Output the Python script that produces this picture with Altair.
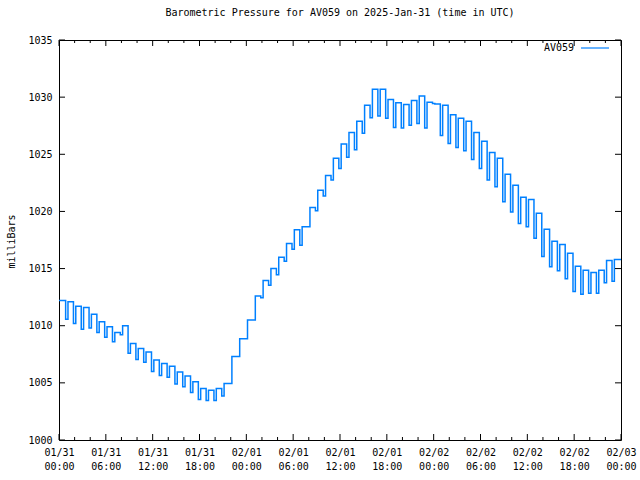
import altair as alt
import pandas as pd

# ---- data ----
hours = list(range(72))  # hour index from 2025-01-31 00:00 UTC
tops = [1012.2, 1012.1, 1011.7, 1011.6, 1011.0, 1010.35, 1009.9, 1009.4, 1010.0, 1008.45,
        1008.0, 1007.7, 1007.0, 1006.7, 1006.45, 1005.95, 1005.6, 1005.1, 1004.5, 1004.35,
        1004.5, 1004.95, 1007.3, 1008.85, 1010.5, 1012.6, 1013.95, 1015.0, 1016.0, 1017.2,
        1018.4, 1018.65, 1020.35, 1021.85, 1023.15, 1024.65, 1025.9, 1026.9, 1027.9, 1029.3,
        1030.7, 1030.7, 1029.8, 1029.5, 1029.35, 1029.7, 1030.1, 1029.55, 1029.4, 1029.3,
        1028.45, 1028.15, 1027.9, 1026.9, 1026.15, 1025.15, 1024.65, 1023.25, 1022.3, 1021.25,
        1021.05, 1019.85, 1018.45, 1017.4, 1017.1, 1016.35, 1015.2, 1014.85, 1014.65, 1014.85,
        1015.7, 1015.8]
dips = [1010.56, 1010.2, 1009.7, 1009.8, 1009.4, 1009.0, 1008.6, 1009.2, 1007.6, 1007.05,
        1006.8, 1006.0, 1005.65, 1005.5, 1004.9, 1004.65, 1004.15, 1003.55, 1003.45, 1003.45,
        1003.85, 1004.95, 1007.3, 1008.85, 1010.5, 1012.45, 1013.55, 1014.45, 1015.65, 1016.7,
        1017.05, 1018.65, 1020.05, 1021.35, 1022.75, 1023.75, 1024.75, 1025.4, 1026.85, 1028.2,
        1028.35, 1028.15, 1027.35, 1027.3, 1027.55, 1027.7, 1027.3, 1029.45, 1026.65, 1025.95,
        1025.6, 1025.3, 1024.55, 1023.75, 1022.75, 1022.15, 1020.85, 1019.95, 1018.95, 1018.65,
        1017.65, 1016.05, 1015.15, 1014.8, 1014.1, 1013.0, 1012.75, 1012.85, 1012.85, 1013.75,
        1013.9, 1015.8]
series_name = "AV059"
y_tick_values = [1000, 1005, 1010, 1015, 1020, 1025, 1030, 1035]
x_major = [0, 6, 12, 18, 24, 30, 36, 42, 48, 54, 60, 66, 72]
x_minor = [2, 4, 8, 10, 14, 16, 20, 22, 26, 28, 32, 34, 38, 40, 44, 46, 50, 52, 56, 58, 62, 64, 68, 70]
title_text = "Barometric Pressure for AV059 on 2025-Jan-31 (time in UTC)"
LINE_COLOR = "#0080ff"

rows = []
for h, t, d in zip(hours, tops, dips):
    rows.append({"hour": h if h == 0 else h + 0.15, "p": t, "s": series_name})
    rows.append({"hour": h + 0.85, "p": d, "s": series_name})
rows.append({"hour": 72, "p": tops[-1], "s": series_name})
df = pd.DataFrame(rows)

FONT = "DejaVu Sans Mono"
W, H = 562, 400
xs = alt.Scale(domain=[0, 72], nice=False, zero=False)
ys = alt.Scale(domain=[1000, 1035], nice=False, zero=False)

label_expr = ("[datum.value < 24 ? '01/31' : datum.value < 48 ? '02/01' : datum.value < 72 ? '02/02' : '02/03', "
              "(datum.value % 24 < 10 ? '0' : '') + (datum.value % 24) + ':00']")

x_axis = alt.Axis(values=x_major, labelExpr=label_expr, ticks=False, domain=False, grid=False,
                  title=None, labelPadding=7, labelLineHeight=14, labelFont=FONT,
                  labelFontSize=10, labelColor="black", labelFlush=False, labelOverlap=False)
y_axis = alt.Axis(values=y_tick_values, ticks=False, domain=False, grid=False, format="d",
                  title="milliBars", labelPadding=7, labelFont=FONT, labelFontSize=10,
                  labelColor="black", titleFont=FONT, titleFontSize=10, titleFontWeight="normal",
                  titleColor="black", titleX=-48, titleY=201, titleAngle=270,
                  titleBaseline="middle", titleAlign="center", labelFlush=False,
                  labelOverlap=False)

line = alt.Chart(df).mark_line(interpolate="step-after", strokeWidth=1.5, clip=True,
                               color=LINE_COLOR).encode(
    x=alt.X("hour:Q", scale=xs, axis=x_axis),
    y=alt.Y("p:Q", scale=ys, axis=y_axis),
    detail="s:N",
)

legend_df = pd.DataFrame({"s": [series_name]})
legend_text = alt.Chart(legend_df).mark_text(align="right", baseline="middle", font=FONT,
                                             fontSize=10, color="black").encode(
    text="s:N", x=alt.value(515), y=alt.value(8))
legend_line = alt.Chart(legend_df).mark_rule(color=LINE_COLOR, strokeWidth=1.2).encode(
    x=alt.value(522), x2=alt.value(550), y=alt.value(8), detail="s:N")

xmaj = pd.DataFrame({"hour": x_major})
xmin = pd.DataFrame({"hour": x_minor})
yt = pd.DataFrame({"p": y_tick_values})

def xticks(data, length):
    b = alt.Chart(data).mark_rule(color="black", strokeWidth=1).encode(
        x=alt.X("hour:Q", scale=xs, axis=x_axis), y=alt.value(H), y2=alt.value(H - length))
    t = alt.Chart(data).mark_rule(color="black", strokeWidth=1).encode(
        x=alt.X("hour:Q", scale=xs, axis=x_axis), y=alt.value(0), y2=alt.value(length))
    return [b, t]

ytl = alt.Chart(yt).mark_rule(color="black", strokeWidth=1).encode(
    y=alt.Y("p:Q", scale=ys, axis=y_axis), x=alt.value(0), x2=alt.value(6))
ytr = alt.Chart(yt).mark_rule(color="black", strokeWidth=1).encode(
    y=alt.Y("p:Q", scale=ys, axis=y_axis), x=alt.value(W - 6), x2=alt.value(W))

chart = alt.layer(line, *xticks(xmaj, 6), *xticks(xmin, 3), ytl, ytr, legend_text, legend_line).properties(
    width=W, height=H,
    autosize=alt.AutoSizeParams(type="none"),
    padding={"left": 59, "top": 40, "right": 19, "bottom": 40},
    title=alt.TitleParams(title_text, font=FONT, fontSize=10, fontWeight="normal", color="black",
                          anchor="middle", offset=17),
    background="white",
).configure_view(stroke="black", strokeWidth=1)

chart.save("out.html", embed_options={"renderer": "svg", "actions": False})
